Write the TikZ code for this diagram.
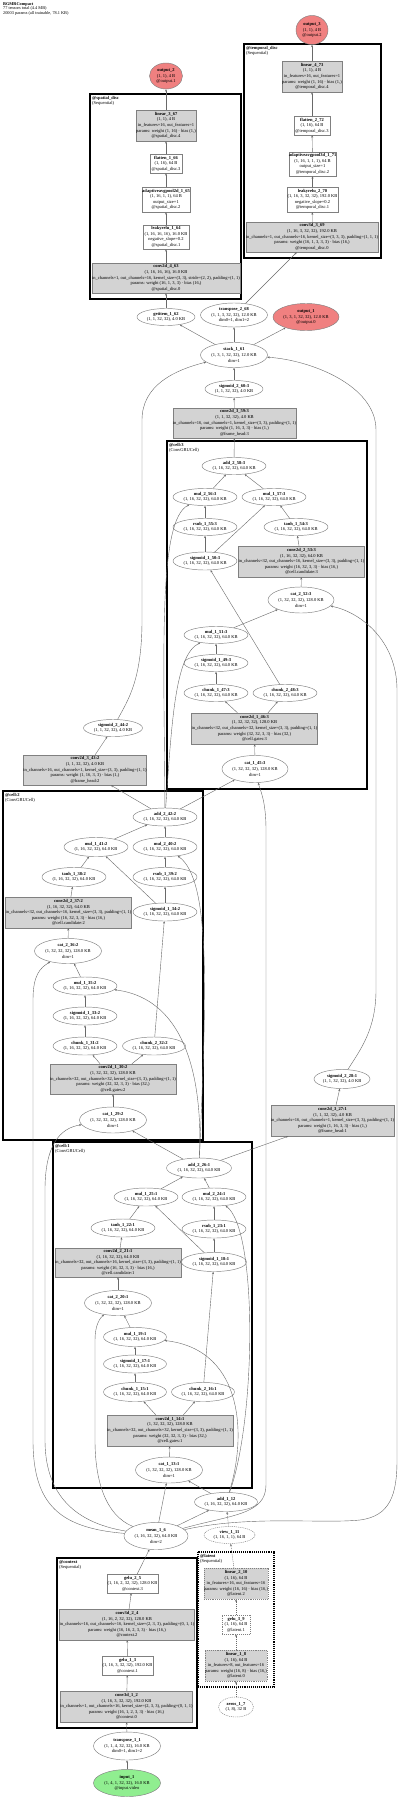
\documentclass[tikz,border=0pt]{standalone}
\usepackage{fontspec}
\setmainfont{Liberation Serif}
\usetikzlibrary{shapes.geometric,arrows.meta}
\definecolor{boxgray}{RGB}{211,211,211}
\definecolor{ndgray}{RGB}{128,128,128}
\definecolor{edgegray}{RGB}{105,105,105}
\definecolor{outred}{RGB}{240,128,128}
\definecolor{ingreen}{RGB}{144,238,144}
\newcommand{\nf}{\fontsize{4.5}{5.6}\selectfont}
\tikzset{
 nd/.style={font=\nf, align=center, inner sep=0pt, draw=ndgray, line width=0.45pt},
 sz/.style 2 args={minimum width=#1pt, minimum height=#2pt},
 gbox/.style={nd, rectangle, fill=boxgray},
 wbox/.style={nd, rectangle, fill=white},
 ell/.style={nd, ellipse, inner xsep=-5pt, inner ysep=-2pt, fill=white},
 oell/.style={ell, fill=outred},
 iell/.style={ell, fill=ingreen},
 dot/.style={dash pattern=on 1pt off 0.9pt},
 edge/.style={draw=edgegray, line width=0.4pt, -{Stealth[length=2.4pt,width=2pt]}},
 dedge/.style={edge, dash pattern=on 1pt off 0.9pt},
 clus/.style={draw=black, line width=1.3pt},
 clab/.style={font=\nf, anchor=north west, align=left, inner sep=0pt},
}
\begin{document}
\begin{tikzpicture}[x=1pt,y=-1pt]
\fill[white] (0,0) rectangle (400,1798);
\useasboundingbox (0,0) rectangle (400,1798);

\node[anchor=north west, inner sep=0pt, align=left, font=\fontsize{4.3}{4.6}\selectfont] (hdr) at (3,2) {\textbf{BGMRCompact}\\77 tensors total (4.4 MB)\\20003 params (all trainable, 78.1 KB)};

% clusters
\draw[clus] (244,44) rectangle (381,258);
\node[clab] (ltemp) at (246,46) {\textbf{@temporal\_disc}\\(Sequential)};
\draw[clus] (90,94) rectangle (241,299);
\node[clab] (lspat) at (92,96) {\textbf{@spatial\_disc}\\(Sequential)};
\draw[clus] (167,441) rectangle (367,789);
\node[clab] (lc3) at (169,443) {\textbf{@cell:3}\\(ConvGRUCell)};
\draw[clus] (3,791) rectangle (203,1140);
\node[clab] (lc2) at (5,793) {\textbf{@cell:2}\\(ConvGRUCell)};
\draw[clus] (53,1142) rectangle (252,1488);
\node[clab] (lc1) at (55,1144) {\textbf{@cell:1}\\(ConvGRUCell)};
\draw[clus] (57,1558) rectangle (197,1728);
\node[clab] (lctx) at (59,1560) {\textbf{@context}\\(Sequential)};
\draw[clus, dot] (198,1552) rectangle (274,1687);
\node[clab] (llat) at (200,1554) {\textbf{@latent}\\(Sequential)};

% temporal branch
\node[oell, sz={32}{29}] (out3) at (312,30) {\textbf{output\_3}\\(1, 1), 4 B\\@output.2};
\node[gbox, sz={58}{31}] (lin4) at (312,76.5) {\textbf{linear\_4\_73}\\(1, 1), 4 B\\in\_features=16, out\_features=1\\params: weight (1, 16) · bias (1,)\\@temporal\_disc.4};
\node[wbox, sz={36}{19}] (flat2) at (312,125.5) {\textbf{flatten\_2\_72}\\(1, 16), 64 B\\@temporal\_disc.3};
\node[wbox, sz={47}{24}] (aap3) at (312.5,164) {\textbf{adaptiveavgpool3d\_1\_71}\\(1, 16, 1, 1, 1), 64 B\\output\_size=1\\@temporal\_disc.2};
\node[wbox, sz={51}{25}] (lrelu2) at (312.5,199.5) {\textbf{leakyrelu\_2\_70}\\(1, 16, 3, 32, 32), 192.0 KB\\negative\_slope=0.2\\@temporal\_disc.1};
\node[gbox, sz={124}{30}] (c3d3) at (312,237) {\textbf{conv3d\_3\_69}\\(1, 16, 3, 32, 32), 192.0 KB\\in\_channels=1, out\_channels=16, kernel\_size=(3, 3, 3), padding=(1, 1, 1)\\params: weight (16, 1, 3, 3, 3) · bias (16,)\\@temporal\_disc.0};

% spatial branch
\node[oell, sz={33}{26}] (out2) at (166,76) {\textbf{output\_2}\\(1, 1), 4 B\\@output.1};
\node[gbox, sz={58}{31}] (lin3) at (166,125.5) {\textbf{linear\_3\_67}\\(1, 1), 4 B\\in\_features=16, out\_features=1\\params: weight (1, 16) · bias (1,)\\@spatial\_disc.4};
\node[wbox, sz={32}{19}] (flat1) at (166,163.5) {\textbf{flatten\_1\_66}\\(1, 16), 64 B\\@spatial\_disc.3};
\node[wbox, sz={48}{25}] (aap2) at (166,199.5) {\textbf{adaptiveavgpool2d\_1\_65}\\(1, 16, 1, 1), 64 B\\output\_size=1\\@spatial\_disc.2};
\node[wbox, sz={46}{24}] (lrelu1) at (166,237) {\textbf{leakyrelu\_1\_64}\\(1, 16, 16, 16), 16.0 KB\\negative\_slope=0.2\\@spatial\_disc.1};
\node[gbox, sz={138}{30}] (c2d4) at (166,278) {\textbf{conv2d\_4\_63}\\(1, 16, 16, 16), 16.0 KB\\in\_channels=1, out\_channels=16, kernel\_size=(3, 3), stride=(2, 2), padding=(1, 1)\\params: weight (16, 1, 3, 3) · bias (16,)\\@spatial\_disc.0};

% stack area
\node[ell, sz={58}{17}] (getitem) at (166,317) {\textbf{getitem\_1\_62}\\(1, 1, 32, 32), 4.0 KB};
\node[ell, sz={67}{24}] (tr2) at (234,315) {\textbf{transpose\_2\_68}\\(1, 1, 3, 32, 32), 12.0 KB\\dim0=1, dim1=2};
\node[oell, sz={66}{27}] (out1) at (306,317) {\textbf{output\_1}\\(1, 3, 1, 32, 32), 12.0 KB\\@output.0};
\node[ell, sz={67}{25}] (stack) at (234,355) {\textbf{stack\_1\_61}\\(1, 3, 1, 32, 32), 12.0 KB\\dim=1};
\node[ell, sz={58}{17}] (sig260) at (234,389) {\textbf{sigmoid\_2\_60:3}\\(1, 1, 32, 32), 4.0 KB};
\node[gbox, sz={117}{30}] (c2d359) at (234.5,423) {\textbf{conv2d\_3\_59:3}\\(1, 1, 32, 32), 4.0 KB\\in\_channels=16, out\_channels=1, kernel\_size=(3, 3), padding=(1, 1)\\params: weight (1, 16, 3, 3) · bias (1,)\\@frame\_head:3};

% cell 3
\node[ell, sz={64}{17}] (add258) at (234,466) {\textbf{add\_2\_58:3}\\(1, 16, 32, 32), 64.0 KB};
\node[ell, sz={64}{17}] (mul256) at (205,497) {\textbf{mul\_2\_56:3}\\(1, 16, 32, 32), 64.0 KB};
\node[ell, sz={64}{17}] (mul157) at (274,497) {\textbf{mul\_1\_57:3}\\(1, 16, 32, 32), 64.0 KB};
\node[ell, sz={64}{17}] (rsub155) at (205,527) {\textbf{rsub\_1\_55:3}\\(1, 16, 32, 32), 64.0 KB};
\node[ell, sz={64}{17}] (tanh154) at (296,527) {\textbf{tanh\_1\_54:3}\\(1, 16, 32, 32), 64.0 KB};
\node[ell, sz={64}{18}] (sig150) at (205,561) {\textbf{sigmoid\_1\_50:3}\\(1, 16, 32, 32), 64.0 KB};
\node[gbox, sz={119}{31}] (c2d253) at (301.5,561.5) {\textbf{conv2d\_2\_53:3}\\(1, 16, 32, 32), 64.0 KB\\in\_channels=32, out\_channels=16, kernel\_size=(3, 3), padding=(1, 1)\\params: weight (16, 32, 3, 3) · bias (16,)\\@cell.candidate:3};
\node[ell, sz={66}{26}] (cat252) at (301,600) {\textbf{cat\_2\_52:3}\\(1, 32, 32, 32), 128.0 KB\\dim=1};
\node[ell, sz={64}{17}] (mul151) at (216,635) {\textbf{mul\_1\_51:3}\\(1, 16, 32, 32), 64.0 KB};
\node[ell, sz={64}{17}] (sig149) at (216,663) {\textbf{sigmoid\_1\_49:3}\\(1, 16, 32, 32), 64.0 KB};
\node[ell, sz={64}{17}] (chk147) at (216,693) {\textbf{chunk\_1\_47:3}\\(1, 16, 32, 32), 64.0 KB};
\node[ell, sz={64}{17}] (chk248) at (285,693) {\textbf{chunk\_2\_48:3}\\(1, 16, 32, 32), 64.0 KB};
\node[gbox, sz={119}{31}] (c2d146) at (254.5,728.5) {\textbf{conv2d\_1\_46:3}\\(1, 32, 32, 32), 128.0 KB\\in\_channels=32, out\_channels=32, kernel\_size=(3, 3), padding=(1, 1)\\params: weight (32, 32, 3, 3) · bias (32,)\\@cell.gates:3};
\node[ell, sz={66}{27}] (cat145) at (255,769) {\textbf{cat\_1\_45:3}\\(1, 32, 32, 32), 128.0 KB\\dim=1};

% frame head 2
\node[gbox, sz={88}{30}] (c2d343) at (85,770) {\textbf{conv2d\_3\_43:2}\\(1, 1, 32, 32), 4.0 KB\\in\_channels=16, out\_channels=1, kernel\_size=(3, 3), padding=(1, 1)\\params: weight (1, 16, 3, 3) · bias (1,)\\@frame\_head:2};
\node[ell, sz={59}{17}] (sig244) at (113,728) {\textbf{sigmoid\_2\_44:2}\\(1, 1, 32, 32), 4.0 KB};

% cell 2
\node[ell, sz={64}{18}] (add242) at (165,817) {\textbf{add\_2\_42:2}\\(1, 16, 32, 32), 64.0 KB};
\node[ell, sz={64}{19}] (mul141) at (96,847) {\textbf{mul\_1\_41:2}\\(1, 16, 32, 32), 64.0 KB};
\node[ell, sz={64}{19}] (mul240) at (165,847) {\textbf{mul\_2\_40:2}\\(1, 16, 32, 32), 64.0 KB};
\node[ell, sz={64}{19}] (tanh138) at (74,877) {\textbf{tanh\_1\_38:2}\\(1, 16, 32, 32), 64.0 KB};
\node[ell, sz={64}{19}] (rsub139) at (165,877) {\textbf{rsub\_1\_39:2}\\(1, 16, 32, 32), 64.0 KB};
\node[gbox, sz={119}{31}] (c2d237) at (68.5,912.5) {\textbf{conv2d\_2\_37:2}\\(1, 16, 32, 32), 64.0 KB\\in\_channels=32, out\_channels=16, kernel\_size=(3, 3), padding=(1, 1)\\params: weight (16, 32, 3, 3) · bias (16,)\\@cell.candidate:2};
\node[ell, sz={64}{18}] (sig134) at (165,912) {\textbf{sigmoid\_1\_34:2}\\(1, 16, 32, 32), 64.0 KB};
\node[ell, sz={67}{25}] (cat236) at (68,951) {\textbf{cat\_2\_36:2}\\(1, 32, 32, 32), 128.0 KB\\dim=1};
\node[ell, sz={64}{18}] (mul135) at (85,986) {\textbf{mul\_1\_35:2}\\(1, 16, 32, 32), 64.0 KB};
\node[ell, sz={64}{18}] (sig133) at (85,1016) {\textbf{sigmoid\_1\_33:2}\\(1, 16, 32, 32), 64.0 KB};
\node[ell, sz={64}{18}] (chk131) at (85,1046) {\textbf{chunk\_1\_31:2}\\(1, 16, 32, 32), 64.0 KB};
\node[ell, sz={63}{18}] (chk232) at (154,1046) {\textbf{chunk\_2\_32:2}\\(1, 16, 32, 32), 64.0 KB};
\node[gbox, sz={118}{30}] (c2d130) at (113,1079) {\textbf{conv2d\_1\_30:2}\\(1, 32, 32, 32), 128.0 KB\\in\_channels=32, out\_channels=32, kernel\_size=(3, 3), padding=(1, 1)\\params: weight (32, 32, 3, 3) · bias (32,)\\@cell.gates:2};
\node[ell, sz={67}{26}] (cat129) at (113,1120) {\textbf{cat\_1\_29:2}\\(1, 32, 32, 32), 128.0 KB\\dim=1};

% frame head 1
\node[gbox, sz={117}{31}] (c2d327) at (332.5,1120.5) {\textbf{conv2d\_3\_27:1}\\(1, 1, 32, 32), 4.0 KB\\in\_channels=16, out\_channels=1, kernel\_size=(3, 3), padding=(1, 1)\\params: weight (1, 16, 3, 3) · bias (1,)\\@frame\_head:1};
\node[ell, sz={56}{19}] (sig228) at (342,1079) {\textbf{sigmoid\_2\_28:1}\\(1, 1, 32, 32), 4.0 KB};

% cell 1
\node[ell, sz={65}{20}] (add226) at (199,1168) {\textbf{add\_2\_26:1}\\(1, 16, 32, 32), 64.0 KB};
\node[ell, sz={64}{18}] (mul125) at (146,1197) {\textbf{mul\_1\_25:1}\\(1, 16, 32, 32), 64.0 KB};
\node[ell, sz={64}{18}] (mul224) at (214,1197) {\textbf{mul\_2\_24:1}\\(1, 16, 32, 32), 64.0 KB};
\node[ell, sz={64}{18}] (tanh122) at (123,1228) {\textbf{tanh\_1\_22:1}\\(1, 16, 32, 32), 64.0 KB};
\node[ell, sz={64}{18}] (rsub123) at (214,1229) {\textbf{rsub\_1\_23:1}\\(1, 16, 32, 32), 64.0 KB};
\node[gbox, sz={118}{29}] (c2d221) at (118,1262.5) {\textbf{conv2d\_2\_21:1}\\(1, 16, 32, 32), 64.0 KB\\in\_channels=32, out\_channels=16, kernel\_size=(3, 3), padding=(1, 1)\\params: weight (16, 32, 3, 3) · bias (16,)\\@cell.candidate:1};
\node[ell, sz={65}{19}] (sig118) at (214,1262) {\textbf{sigmoid\_1\_18:1}\\(1, 16, 32, 32), 64.0 KB};
\node[ell, sz={67}{25}] (cat220) at (118,1303) {\textbf{cat\_2\_20:1}\\(1, 32, 32, 32), 128.0 KB\\dim=1};
\node[ell, sz={63}{19}] (mul119) at (135,1337) {\textbf{mul\_1\_19:1}\\(1, 16, 32, 32), 64.0 KB};
\node[ell, sz={63}{18}] (sig117) at (135,1364) {\textbf{sigmoid\_1\_17:1}\\(1, 16, 32, 32), 64.0 KB};
\node[ell, sz={63}{19}] (chk115) at (135,1392) {\textbf{chunk\_1\_15:1}\\(1, 16, 32, 32), 64.0 KB};
\node[ell, sz={63}{19}] (chk216) at (203,1392) {\textbf{chunk\_2\_16:1}\\(1, 16, 32, 32), 64.0 KB};
\node[gbox, sz={118}{31}] (c2d114) at (170,1430.5) {\textbf{conv2d\_1\_14:1}\\(1, 32, 32, 32), 128.0 KB\\in\_channels=32, out\_channels=32, kernel\_size=(3, 3), padding=(1, 1)\\params: weight (32, 32, 3, 3) · bias (32,)\\@cell.gates:1};
\node[ell, sz={67}{26}] (cat113) at (169,1470) {\textbf{cat\_1\_13:1}\\(1, 32, 32, 32), 128.0 KB\\dim=1};

% bottom
\node[ell, sz={63}{19}] (add112) at (226,1502) {\textbf{add\_1\_12}\\(1, 16, 32, 32), 64.0 KB};
\node[ell, sz={64}{27}] (mean) at (156,1536) {\textbf{mean\_1\_6}\\(1, 16, 32, 32), 64.0 KB\\dim=2};
\node[ell, dot, sz={51}{17}] (view) at (229.5,1535) {\textbf{view\_1\_11}\\(1, 16, 1, 1), 64 B};
\node[wbox, sz={51}{19}] (gelu2) at (132.5,1583.5) {\textbf{gelu\_2\_5}\\(1, 16, 2, 32, 32), 128.0 KB\\@context.3};
\node[gbox, sz={128}{31}] (c3d2) at (127,1624.5) {\textbf{conv3d\_2\_4}\\(1, 16, 2, 32, 32), 128.0 KB\\in\_channels=16, out\_channels=16, kernel\_size=(2, 3, 3), padding=(0, 1, 1)\\params: weight (16, 16, 2, 3, 3) · bias (16,)\\@context.2};
\node[wbox, sz={51}{19}] (gelu1) at (127.5,1665.5) {\textbf{gelu\_1\_3}\\(1, 16, 3, 32, 32), 192.0 KB\\@context.1};
\node[gbox, sz={125}{31}] (c3d1) at (126.5,1706.5) {\textbf{conv3d\_1\_2}\\(1, 16, 3, 32, 32), 192.0 KB\\in\_channels=1, out\_channels=16, kernel\_size=(2, 3, 3), padding=(0, 1, 1)\\params: weight (16, 1, 2, 3, 3) · bias (16,)\\@context.0};
\node[gbox, dot, sz={64}{31}] (lin2) at (236,1583.5) {\textbf{linear\_2\_10}\\(1, 16), 64 B\\in\_features=16, out\_features=16\\params: weight (16, 16) · bias (16,)\\@latent.2};
\node[wbox, dot, sz={28}{19}] (gelu3) at (236,1624.5) {\textbf{gelu\_3\_9}\\(1, 16), 64 B\\@latent.1};
\node[gbox, dot, sz={62}{31}] (lin1) at (236,1665.5) {\textbf{linear\_1\_8}\\(1, 16), 64 B\\in\_features=8, out\_features=16\\params: weight (16, 8) · bias (16,)\\@latent.0};
\node[ell, dot, sz={35}{20}] (zeros) at (236,1707) {\textbf{zeros\_1\_7}\\(1, 8), 32 B};
\node[ell, sz={67}{28}] (tr1) at (127,1746) {\textbf{transpose\_1\_1}\\(1, 1, 4, 32, 32), 16.0 KB\\dim0=1, dim1=2};
\node[iell, sz={67}{27}] (inp) at (127,1783) {\textbf{input\_1}\\(1, 4, 1, 32, 32), 16.0 KB\\@input.video};

% ---- edges: top
\draw[edge] (lin4) -- (out3);
\draw[edge] (flat2) -- (lin4);
\draw[edge] (aap3) -- (flat2);
\draw[edge] (lrelu2) -- (aap3);
\draw[edge] (c3d3) -- (lrelu2);
\draw[edge] (tr2) -- (c3d3);
\draw[edge] (lin3) -- (out2);
\draw[edge] (flat1) -- (lin3);
\draw[edge] (aap2) -- (flat1);
\draw[edge] (lrelu1) -- (aap2);
\draw[edge] (c2d4) -- (lrelu1);
\draw[edge] (getitem) -- (c2d4);
\draw[edge] (stack) -- (getitem);
\draw[edge] (stack) -- (tr2);
\draw[edge] (stack) -- (out1);
\draw[edge] (sig260) -- (stack);
\draw[edge] (c2d359) -- (sig260);
\draw[edge] (add258) -- (c2d359);
% cell 3
\draw[edge] (mul256) -- (add258);
\draw[edge] (mul157) -- (add258);
\draw[edge] (rsub155) -- (mul256);
\draw[edge] (tanh154) -- (mul157);
\draw[edge] (sig150) -- (mul157);
\draw[edge] (sig150) -- (rsub155);
\draw[edge] (c2d253) -- (tanh154);
\draw[edge] (cat252) -- (c2d253);
\draw[edge] (mul151) -- (cat252);
\draw[edge] (sig149) -- (mul151);
\draw[edge] (chk147) -- (sig149);
\draw[edge] (chk248) -- (sig150);
\draw[edge] (c2d146) -- (chk147);
\draw[edge] (c2d146) -- (chk248);
\draw[edge] (cat145) -- (c2d146);
% h2 to cell 3
\draw[edge] (add242) -- (cat145);
\draw[edge] (add242) -- (c2d343);
\draw[edge] (add242) .. controls (164,650) and (158,520) .. (mul256);
\draw[edge] (add242) .. controls (172,720) and (175,655) .. (mul151);
\draw[edge] (c2d343) -- (sig244);
\draw[edge] (sig244) .. controls (128,700) and (142,680) .. (142,620) -- (142,420) .. controls (142,385) and (175,370) .. (stack);
% cell 2
\draw[edge] (mul141) -- (add242);
\draw[edge] (mul240) -- (add242);
\draw[edge] (tanh138) -- (mul141);
\draw[edge] (sig134) -- (mul141);
\draw[edge] (rsub139) -- (mul240);
\draw[edge] (sig134) -- (rsub139);
\draw[edge] (c2d237) -- (tanh138);
\draw[edge] (cat236) -- (c2d237);
\draw[edge] (mul135) -- (cat236);
\draw[edge] (sig133) -- (mul135);
\draw[edge] (chk131) -- (sig133);
\draw[edge] (chk232) -- (sig134);
\draw[edge] (c2d130) -- (chk131);
\draw[edge] (c2d130) -- (chk232);
\draw[edge] (cat129) -- (c2d130);
% h1 to cell 2
\draw[edge] (add226) -- (cat129);
\draw[edge] (add226) -- (c2d327);
\draw[edge] (c2d327) -- (sig228);
\draw[edge] (sig228) .. controls (360,1050) and (376,1030) .. (376,990) -- (376,430) .. controls (376,385) and (310,360) .. (stack);
\draw[edge] (add226) .. controls (202,1100) and (195,1000) .. (mul135);
\draw[edge] (add226) .. controls (206,1000) and (212,880) .. (mul240);
% cell 1
\draw[edge] (mul125) -- (add226);
\draw[edge] (mul224) -- (add226);
\draw[edge] (tanh122) -- (mul125);
\draw[edge] (sig118) -- (mul125);
\draw[edge] (rsub123) -- (mul224);
\draw[edge] (sig118) -- (rsub123);
\draw[edge] (c2d221) -- (tanh122);
\draw[edge] (cat220) -- (c2d221);
\draw[edge] (mul119) -- (cat220);
\draw[edge] (sig117) -- (mul119);
\draw[edge] (chk115) -- (sig117);
\draw[edge] (chk216) -- (sig118);
\draw[edge] (c2d114) -- (chk115);
\draw[edge] (c2d114) -- (chk216);
\draw[edge] (cat113) -- (c2d114);
\draw[edge] (add112) -- (cat113);
\draw[edge] (add112) .. controls (246,1440) and (246,1350) .. (mul119);
\draw[edge] (add112) .. controls (256,1420) and (258,1230) .. (mul224);
% x inputs from mean
\draw[edge] (mean) -- (add112);
\draw[edge] (mean) -- (cat113);
\draw[edge] (mean) .. controls (105,1515) and (95,1480) .. (95,1440) -- (95,1340) .. controls (95,1325) and (100,1318) .. (cat220);
\draw[edge] (mean) .. controls (70,1522) and (45,1490) .. (45,1440) -- (45,1190) .. controls (45,1145) and (60,1128) .. (cat129);
\draw[edge] (mean) .. controls (60,1528) and (33,1505) .. (33,1440) -- (33,1000) .. controls (33,975) and (40,968) .. (cat236);
\draw[edge] (mean) .. controls (230,1515) and (266,1515) .. (266,1485) -- (266,830) .. controls (266,800) and (260,790) .. (cat145);
\draw[edge] (mean) .. controls (250,1515) and (320,1524) .. (360,1520) .. controls (390,1516) and (397,1495) .. (397,1460) -- (397,690) .. controls (397,640) and (360,612) .. (cat252);
% context / latent
\draw[edge] (gelu2) -- (mean);
\draw[edge] (c3d2) -- (gelu2);
\draw[edge] (gelu1) -- (c3d2);
\draw[edge] (c3d1) -- (gelu1);
\draw[edge] (tr1) -- (c3d1);
\draw[edge] (inp) -- (tr1);
\draw[dedge] (view) -- (add112);
\draw[dedge] (lin2) -- (view);
\draw[dedge] (gelu3) -- (lin2);
\draw[dedge] (lin1) -- (gelu3);
\draw[dedge] (zeros) -- (lin1);
\end{tikzpicture}
\end{document}
